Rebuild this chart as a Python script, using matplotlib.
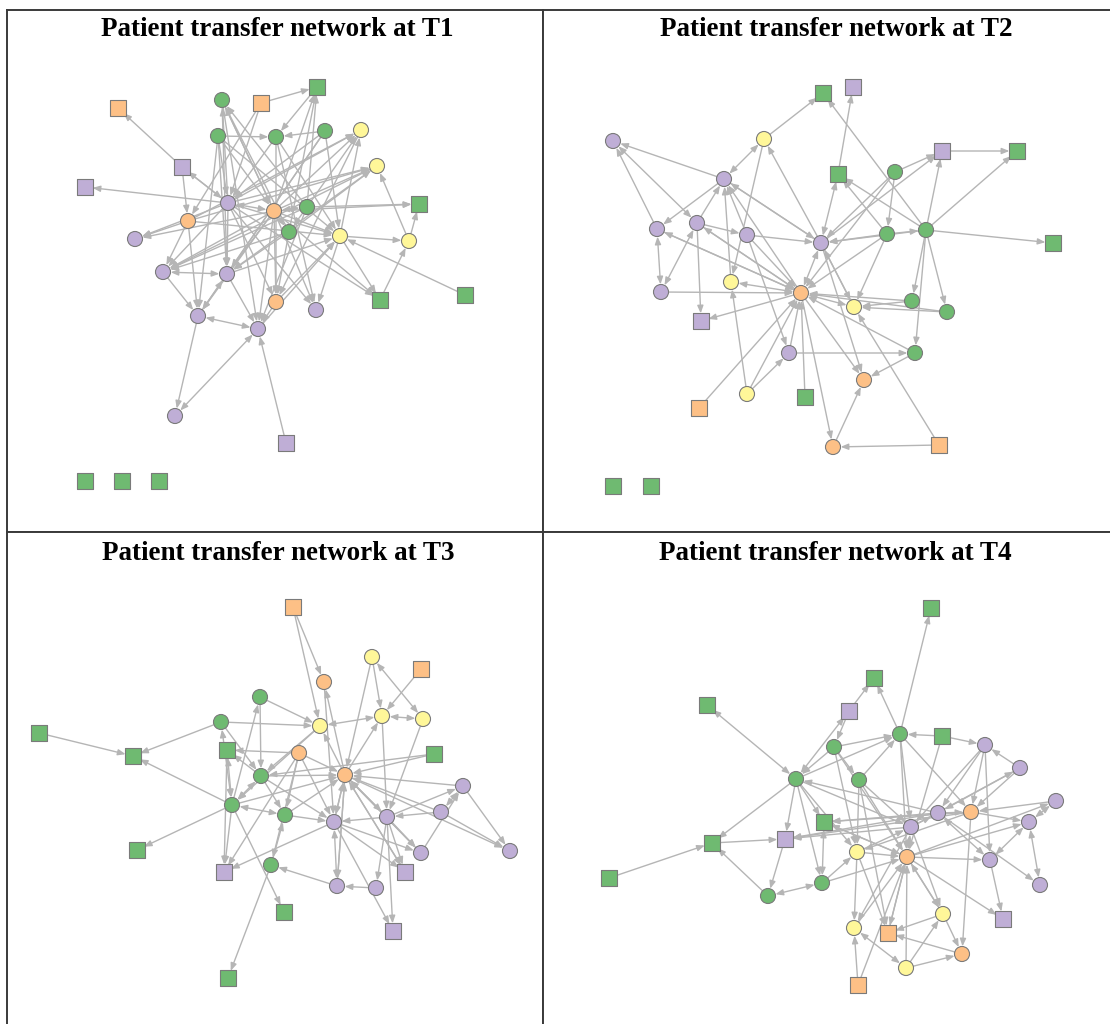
import matplotlib
matplotlib.use("Agg")
import matplotlib.pyplot as plt
from matplotlib.patches import FancyArrowPatch

# ---------------- data ----------------
titles = ["Patient transfer network at T1", "Patient transfer network at T2",
          "Patient transfer network at T3", "Patient transfer network at T4"]

# node codes: first letter = facility group (G green, P purple, O orange, Y yellow),
# second letter = shape (c circle, s square)
t1_x = [118, 222, 261, 317, 218, 276, 325, 361, 377, 182, 85, 228, 274, 307, 419, 188,
        289, 340, 409, 135, 163, 227, 276, 316, 380, 465, 198, 258, 175, 286, 85, 122, 159]
t1_y = [108, 100, 103, 87, 136, 137, 131, 130, 166, 167, 187, 203, 211, 207, 204, 221,
        232, 236, 241, 239, 272, 274, 302, 310, 300, 295, 316, 329, 416, 443, 481, 481, 481]
t1_code = ["Os", "Gc", "Os", "Gs", "Gc", "Gc", "Gc", "Yc", "Yc", "Ps", "Ps", "Pc", "Oc", "Gc", "Gs", "Oc",
           "Gc", "Yc", "Yc", "Pc", "Pc", "Pc", "Oc", "Pc", "Gs", "Gs", "Pc", "Pc", "Pc", "Ps", "Gs", "Gs", "Gs"]
t1_edges = [(9, 0), (11, 10), (11, 9), (9, 15), (4, 5), (6, 5), (2, 3), (3, 5), (12, 3), (13, 3), (16, 3),
            (12, 1), (11, 1), (13, 1), (16, 1), (4, 11), (4, 12), (4, 17), (1, 12), (2, 11), (2, 15),
            (12, 7), (11, 7), (17, 7), (15, 7), (13, 7), (12, 8), (11, 8), (18, 8), (16, 8), (15, 8),
            (12, 14), (13, 14), (18, 14), (12, 17), (11, 17), (6, 17), (25, 17), (27, 17), (22, 17),
            (21, 17), (15, 17), (17, 18), (24, 18), (12, 24), (17, 24), (11, 24), (11, 19), (15, 19),
            (11, 20), (15, 20), (12, 20), (11, 21), (12, 21), (26, 21), (20, 26), (15, 26), (12, 26),
            (21, 27), (12, 27), (29, 27), (22, 27), (13, 27), (26, 28), (12, 23), (11, 23), (17, 23),
            (12, 22), (11, 22), (16, 22), (5, 11), (5, 22), (5, 23), (6, 11), (6, 21), (12, 16),
            (16, 20), (13, 20), (12, 19), (9, 11), (4, 21), (4, 26), (1, 27), (13, 16), (16, 21),
            (7, 22), (8, 21), (8, 20), (1, 21), (6, 26), (5, 17)]
t1_mutual = [(20, 21), (26, 27), (27, 28), (11, 12), (12, 13)]

t2_x = [823, 853, 764, 613, 724, 838, 942, 1017, 895, 657, 697, 747, 821, 887, 926, 1053, 661,
        731, 801, 854, 912, 947, 701, 789, 915, 864, 747, 805, 699, 833, 939, 613, 651]
t2_y = [93, 87, 139, 141, 179, 174, 151, 151, 172, 229, 223, 235, 243, 234, 230, 243, 292,
        282, 293, 307, 301, 312, 321, 353, 353, 380, 394, 397, 408, 447, 445, 486, 486]
t2_code = ["Gs", "Ps", "Yc", "Pc", "Pc", "Gs", "Ps", "Gs", "Gc", "Pc", "Pc", "Pc", "Pc", "Gc", "Gc", "Gs", "Pc",
           "Yc", "Oc", "Yc", "Gc", "Gc", "Ps", "Pc", "Gc", "Oc", "Yc", "Gs", "Os", "Oc", "Os", "Gs", "Gs"]
t2_edges = [(2, 0), (14, 0), (5, 1), (4, 3), (9, 3), (2, 17), (12, 2), (4, 9), (10, 4), (11, 4),
            (17, 4), (18, 4), (12, 4), (10, 11), (10, 22), (11, 12), (18, 9), (16, 18), (13, 12),
            (14, 12), (8, 12), (8, 6), (8, 13), (14, 6), (12, 6), (6, 7), (14, 7), (14, 15), (13, 5),
            (14, 5), (13, 14), (14, 20), (14, 21), (20, 19), (21, 19), (20, 18), (21, 18), (13, 18),
            (24, 18), (24, 25), (23, 24), (23, 18), (26, 23), (26, 17), (27, 18), (28, 18), (18, 29),
            (29, 25), (30, 29), (30, 19), (18, 25), (18, 22), (11, 18), (10, 18), (13, 19), (11, 23),
            (12, 25), (14, 24), (12, 19), (8, 18), (4, 12), (9, 18), (18, 10), (26, 18), (19, 12)]
t2_mutual = [(3, 10), (2, 4), (9, 16), (10, 16), (17, 18), (5, 12), (12, 18), (18, 19)]

t3_x = [39, 133, 293, 372, 421, 324, 260, 221, 382, 423, 320, 227, 299, 434, 345, 261, 463,
        232, 285, 334, 387, 441, 510, 421, 271, 224, 405, 337, 376, 284, 393, 137, 228]
t3_y = [733, 756, 607, 657, 669, 682, 697, 722, 716, 719, 726, 750, 753, 754, 775, 776, 786,
        805, 815, 822, 817, 812, 851, 853, 865, 872, 872, 886, 888, 912, 931, 850, 978]
t3_code = ["Gs", "Gs", "Os", "Yc", "Os", "Oc", "Gc", "Gc", "Yc", "Yc", "Yc", "Gs", "Oc", "Gs", "Oc", "Gc", "Pc",
           "Gc", "Gc", "Pc", "Pc", "Pc", "Pc", "Pc", "Gc", "Ps", "Ps", "Pc", "Pc", "Gs", "Ps", "Gs", "Gs"]
t3_edges = [(0, 1), (7, 1), (17, 1), (17, 31), (24, 32), (2, 5), (2, 10), (3, 8), (3, 14), (4, 8),
            (14, 5), (14, 10), (14, 8), (6, 10), (7, 10), (12, 11), (15, 11), (13, 14), (16, 14),
            (12, 14), (15, 14), (17, 14), (18, 14), (19, 14), (20, 14), (21, 14), (23, 14), (26, 14),
            (27, 14), (14, 22), (14, 19), (14, 20), (14, 23), (17, 6), (7, 15), (18, 19), (15, 19),
            (12, 19), (19, 23), (19, 26), (19, 30), (20, 19), (20, 16), (20, 23), (20, 26), (20, 28),
            (20, 30), (21, 22), (16, 22), (21, 20), (23, 16), (28, 27), (27, 24), (24, 18), (12, 24),
            (12, 18), (17, 29), (17, 25), (11, 25), (19, 25), (13, 15), (10, 17), (5, 19), (8, 20),
            (9, 20), (6, 15), (15, 18), (10, 15), (12, 25), (14, 26), (14, 27)]
t3_mutual = [(3, 9), (8, 10), (8, 9), (11, 17), (7, 17), (17, 18), (19, 27), (16, 21), (15, 17)]

t4_x = [931, 874, 707, 849, 900, 942, 834, 985, 1020, 796, 859, 1056, 938, 971, 824, 911, 1029,
        785, 712, 857, 907, 990, 609, 822, 768, 1040, 943, 1003, 854, 888, 962, 906, 858]
t4_y = [608, 678, 705, 711, 734, 736, 747, 745, 768, 779, 780, 801, 813, 812, 822, 827, 822,
        839, 843, 852, 857, 860, 878, 883, 896, 885, 914, 919, 928, 933, 954, 968, 985]
t4_code = ["Gs", "Gs", "Gs", "Ps", "Gc", "Gs", "Gc", "Pc", "Pc", "Gc", "Gc", "Pc", "Pc", "Oc", "Gs", "Pc", "Pc",
           "Ps", "Gs", "Yc", "Oc", "Pc", "Gs", "Gc", "Gc", "Pc", "Yc", "Ps", "Yc", "Os", "Oc", "Yc", "Os"]
t4_edges = [(4, 0), (3, 1), (4, 1), (5, 4), (6, 4), (9, 4), (10, 4), (5, 7), (8, 7), (7, 21), (7, 15),
            (7, 12), (7, 13), (8, 12), (8, 13), (11, 13), (13, 16), (21, 27), (12, 17), (12, 14),
            (12, 9), (9, 14), (9, 17), (9, 23), (9, 19), (10, 19), (10, 15), (10, 20), (17, 24),
            (18, 17), (9, 18), (24, 18), (22, 18), (19, 28), (19, 29), (19, 20), (19, 15), (23, 20),
            (26, 20), (28, 20), (29, 20), (31, 20), (32, 20), (26, 30), (31, 30), (31, 26), (30, 29),
            (26, 29), (32, 28), (13, 30), (15, 12), (12, 13), (4, 15), (4, 20), (6, 9), (6, 19),
            (6, 10), (4, 13), (5, 20), (13, 19), (13, 17), (13, 14), (20, 26), (15, 26), (20, 16),
            (20, 27), (3, 6), (20, 14), (15, 17), (20, 21), (12, 25), (20, 11), (15, 8), (6, 20),
            (23, 19), (9, 15), (10, 29), (20, 29), (15, 28), (14, 20)]
t4_mutual = [(2, 9), (3, 9), (11, 16), (16, 21), (16, 25), (12, 21), (14, 23), (23, 24), (28, 31),
             (15, 20)]

panels_x = [t1_x, t2_x, t3_x, t4_x]
panels_y = [t1_y, t2_y, t3_y, t4_y]
panels_code = [t1_code, t2_code, t3_code, t4_code]
panels_edges = [t1_edges, t2_edges, t3_edges, t4_edges]
panels_mutual = [t1_mutual, t2_mutual, t3_mutual, t4_mutual]

# ---------------- style ----------------
W, H = 1110, 1024
group_colors = {"G": "#6fba71", "P": "#bfaed6", "O": "#fdc086", "Y": "#fff799"}
edge_color = "#b5b5b5"
# panel extents in canvas pixels (x0, x1, y0, y1)
extents = [(7, 543, 10, 532), (543, 1130, 10, 532), (7, 543, 532, 1040), (543, 1130, 532, 1040)]
title_pos = [(277, 30), (836, 30), (278, 553), (835, 553)]

fig = plt.figure(figsize=(W / 100, H / 100), dpi=100)
fig.patch.set_facecolor("white")

for k in range(4):
    x0, x1, y0, y1 = extents[k]
    ax = fig.add_axes([x0 / W, 1 - y1 / H, (x1 - x0) / W, (y1 - y0) / H])
    ax.set_xlim(x0, x1)
    ax.set_ylim(y1, y0)
    ax.set_xticks([])
    ax.set_yticks([])
    for s in ax.spines.values():
        s.set_color("#3a3a3a")
        s.set_linewidth(1.4)
    xs, ys, codes = panels_x[k], panels_y[k], panels_code[k]

    def add_edge(a, b, style):
        p = FancyArrowPatch((xs[a], ys[a]), (xs[b], ys[b]), arrowstyle=style,
                            mutation_scale=10, shrinkA=5.5, shrinkB=5.5,
                            color=edge_color, lw=1.0, zorder=1)
        ax.add_patch(p)

    for a, b in panels_edges[k]:
        add_edge(a, b, "-|>,head_length=0.45,head_width=0.18")
    for a, b in panels_mutual[k]:
        add_edge(a, b, "<|-|>,head_length=0.45,head_width=0.18")

    for shape, marker, size in (("c", "o", 117), ("s", "s", 133)):
        idx = [i for i, c in enumerate(codes) if c[1] == shape]
        ax.scatter([xs[i] for i in idx], [ys[i] for i in idx], s=size, marker=marker,
                   c=[group_colors[codes[i][0]] for i in idx], edgecolors="#7a7a7a",
                   linewidths=0.8, zorder=3)

    tx, ty = title_pos[k]
    ax.text(tx, ty, titles[k], ha="center", va="center", fontsize=19.5,
            fontweight="bold", family="Liberation Serif", clip_on=False)

fig.savefig("out.png", dpi=100)
